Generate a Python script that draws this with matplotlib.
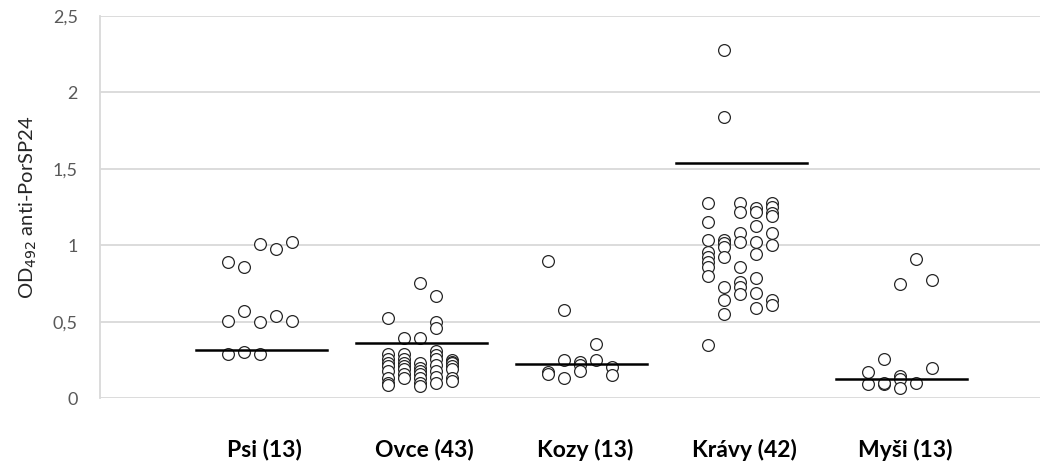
import numpy as np
import matplotlib.pyplot as plt
from matplotlib.ticker import FuncFormatter

plt.rcParams['font.family'] = ['Lato', 'DejaVu Sans']

# Groups, positions and cut-off values
groups = ['Psi (13)', 'Ovce (43)', 'Kozy (13)', 'Krávy (42)', 'Myši (13)']
centers = [1, 2, 3, 4, 5]
cutoffs = [0.316, 0.36, 0.224, 1.536, 0.124]

# Individual OD values, keyed by jitter column (x offset from group centre)
psi = {-0.2: [0.889, 0.507, 0.288],
       -0.1: [0.856, 0.573, 0.305],
       0.0: [1.008, 0.497, 0.288],
       0.1: [0.974, 0.538],
       0.2: [1.024, 0.505]}
ovce = {-0.2: [0.523, 0.29, 0.26, 0.23, 0.21, 0.18, 0.13, 0.10, 0.09],
        -0.1: [0.392, 0.29, 0.26, 0.23, 0.21, 0.19, 0.16, 0.13],
        0.0: [0.756, 0.396, 0.23, 0.20, 0.18, 0.16, 0.13, 0.10, 0.08],
        0.1: [0.669, 0.50, 0.46, 0.31, 0.28, 0.26, 0.22, 0.18, 0.14, 0.10],
        0.2: [0.25, 0.24, 0.23, 0.21, 0.19, 0.13, 0.11]}
kozy = {-0.2: [0.90, 0.174, 0.159],
        -0.1: [0.58, 0.25, 0.135],
        0.0: [0.235, 0.22, 0.18],
        0.1: [0.355, 0.25],
        0.2: [0.207, 0.152]}
kravy = {-0.2: [1.275, 1.15, 1.035, 0.958, 0.925, 0.893, 0.86, 0.80, 0.348],
         -0.1: [2.277, 1.837, 1.035, 1.013, 0.991, 0.925, 0.725, 0.643, 0.549],
         0.0: [1.275, 1.22, 1.078, 1.024, 0.856, 0.762, 0.729, 0.682],
         0.1: [1.242, 1.22, 1.126, 1.02, 0.943, 0.784, 0.69, 0.592],
         0.2: [1.275, 1.252, 1.209, 1.192, 1.078, 1.002, 0.643, 0.61]}
mysi = {-0.2: [0.174, 0.093],
        -0.1: [0.257, 0.093, 0.10],
        0.0: [0.745, 0.146, 0.125, 0.07],
        0.1: [0.908, 0.098],
        0.2: [0.773, 0.20]}
values = [psi, ovce, kozy, kravy, mysi]

fig = plt.figure(figsize=(10.54, 4.68), dpi=100)
ax = fig.add_axes([100 / 1054, 69.7 / 468, 940 / 1054, 382.3 / 468])

for c, cols in zip(centers, values):
    for off, ys in cols.items():
        ax.scatter([c + off] * len(ys), ys, s=72, facecolors='white',
                   edgecolors='#262626', linewidths=0.9, zorder=3)

for c, cut in zip(centers, cutoffs):
    ax.plot([c - 0.4, c + 0.42], [cut, cut], color='black', lw=1.8, zorder=4)

ax.set_xlim(0, 5.875)
ax.set_ylim(0, 2.5)
ax.set_yticks(np.arange(0, 2.51, 0.5))
ax.yaxis.set_major_formatter(FuncFormatter(lambda v, p: f'{v:g}'.replace('.', ',')))
ax.grid(axis='y', color='#d9d9d9', lw=1.3)
ax.set_axisbelow(True)

for s in ['top', 'right', 'bottom']:
    ax.spines[s].set_visible(False)
ax.spines['left'].set_color('#d9d9d9')
ax.spines['left'].set_linewidth(1.3)

ax.tick_params(axis='y', length=0, pad=16, labelsize=13, labelcolor='#595959')
ax.set_xticks([c + 0.03 for c in centers])
ax.set_xticklabels(groups, fontsize=16.5, fontweight='bold')
ax.tick_params(axis='x', length=0, pad=29)

ax.set_ylabel('OD$_{492}$ anti-PorSP24', fontsize=14.5, color='#262626', labelpad=10)

fig.savefig('out.png', dpi=100)
